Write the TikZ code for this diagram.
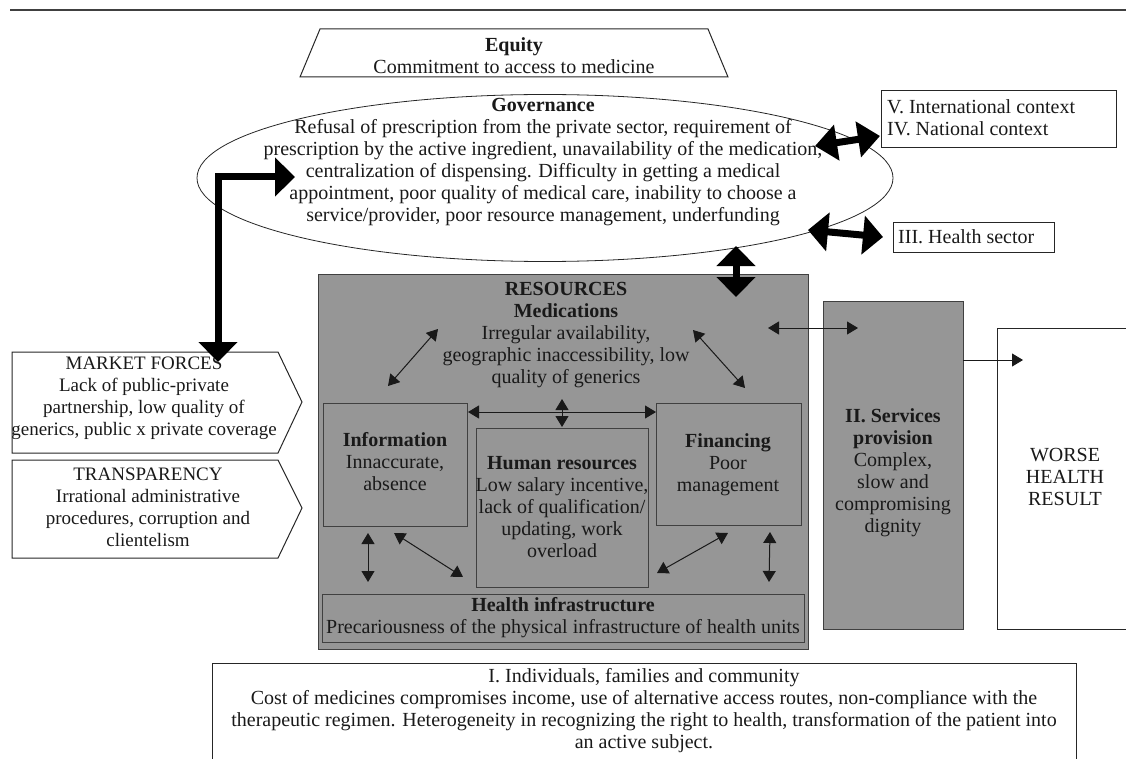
\documentclass[tikz,border=0pt]{standalone}
\usepackage{fontspec}
\setmainfont{Liberation Serif}
\usetikzlibrary{arrows.meta,shapes.geometric}
\definecolor{gfill}{RGB}{150,150,150}
\definecolor{ink}{RGB}{25,25,25}
\begin{document}
\begin{tikzpicture}[x=1pt,y=-1pt,
  txt/.style={font=\fontsize{20}{22}\selectfont, align=center, inner sep=0pt, text=ink},
  stxt/.style={txt, font=\fontsize{19}{22}\selectfont},
  ltxt/.style={font=\fontsize{20}{22}\selectfont, align=left, inner sep=0pt, text=ink, anchor=west},
  box/.style={draw=black!85, line width=1pt, inner sep=0pt, anchor=north west},
  graybox/.style={box, fill=gfill, draw=black!75},
  bigarrow/.style={line width=7pt, line join=miter, {Triangle[width=38pt,length=20pt]}-{Triangle[width=38pt,length=20pt]}},
  smallarrow/.style={line width=1pt, draw=ink, {Triangle[width=13pt,length=11pt]}-{Triangle[width=13pt,length=11pt]}},
  onearrow/.style={line width=1pt, draw=ink, -{Triangle[width=13pt,length=11pt]}}
]
\useasboundingbox (0,0) rectangle (1126,759);

% top rule
\draw[line width=1.2pt, black!75] (10,10) -- (1126,10);

% Equity
\draw[line width=1pt, black!85] (300,77) -- (320,29) -- (708,29) -- (728,77) -- cycle;
\node[txt] (equity) at (514,56) {\textbf{Equity}\\Commitment to access to medicine};

% Governance ellipse
\node[draw=black!85, line width=0.8pt, ellipse, minimum width=696pt, minimum height=167pt, inner sep=0pt] (gov) at (545,178) {};
\node[txt] (govtxt) at (543,162) {\textbf{Governance}\\
Refusal of prescription from the private sector, requirement of\\
prescription by the active ingredient, unavailability of the medication,\\
centralization of dispensing. Difficulty in getting a medical\\
appointment, poor quality of medical care, inability to choose a\\
service/provider, poor resource management, underfunding};

% context boxes
\node[box, minimum width=235pt, minimum height=57pt] (intl) at (881,90) {};
\node[ltxt] (intltxt) at (887,118) {V. International context\\IV. National context};
\node[box, minimum width=161pt, minimum height=30pt] (hs) at (893,222) {};
\node[ltxt] (hstxt) at (898,237) {III. Health sector};

% Market forces / transparency chevrons
\draw[line width=1pt, black!85] (12,352) -- (278,352) -- (302,402) -- (278,453) -- (12,453) -- cycle;
\node[stxt] (mkt) at (144,398) {MARKET FORCES\\Lack of public-private\\partnership, low quality of\\generics, public x private coverage};
\draw[line width=1pt, black!85] (12,460) -- (278,460) -- (302,508) -- (278,558) -- (12,558) -- cycle;
\node[stxt] (transp) at (148,507) {TRANSPARENCY\\Irrational administrative\\procedures, corruption and\\clientelism};

% Resources
\node[graybox, line width=1.3pt, minimum width=490pt, minimum height=375pt] (res) at (318,274) {};
\node[txt] (restxt) at (566,335) {\textbf{RESOURCES}\\\textbf{Medications}\\Irregular availability,\\geographic inaccessibility, low\\quality of generics};
\node[graybox, minimum width=144pt, minimum height=123pt] (info) at (323,403) {};
\node[txt] (infotxt) at (395,462) {\textbf{Information}\\Innaccurate,\\absence};
\node[graybox, minimum width=172pt, minimum height=159pt] (hr) at (476,428) {};
\node[txt] (hrtxt) at (562,507) {\textbf{Human resources}\\Low salary incentive,\\lack of qualification/\\updating, work\\overload};
\node[graybox, minimum width=145pt, minimum height=122pt] (fin) at (656,403) {};
\node[txt] (fintxt) at (728,465) {\textbf{Financing}\\Poor\\management};
\node[graybox, minimum width=482pt, minimum height=48pt] (infra) at (322,594) {};
\node[txt] (infratxt) at (563,618) {\textbf{Health infrastructure}\\Precariousness of the physical infrastructure of health units};

% Services provision
\node[graybox, minimum width=140pt, minimum height=328pt] (serv) at (823,301) {};
\node[txt] (servtxt) at (893,473) {\textbf{II. Services}\\\textbf{provision}\\Complex,\\slow and\\compromising\\dignity};

% Worse health result (open on the right)
\draw[line width=1pt, black!85] (1130,328) -- (997,328) -- (997,629) -- (1130,629);
\node[txt] (worsetxt) at (1065,477) {WORSE\\HEALTH\\RESULT};

% Individuals box (open at the bottom)
\draw[line width=1pt, black!85] (212,770) -- (212,663) -- (1076,663) -- (1076,770);
\node[txt] (indtxt) at (644,711) {I. Individuals, families and community\\
Cost of medicines compromises income, use of alternative access routes, non-compliance with the\\
therapeutic regimen. Heterogeneity in recognizing the right to health, transformation of the patient into\\
an active subject.};

% connector end points
\coordinate (govI) at (815,146);  \coordinate (intlL) at (880,136);
\coordinate (govH) at (808,230);  \coordinate (hsL) at (883,237);
\coordinate (govB) at (736,246);  \coordinate (resT) at (736,297);
\coordinate (govW) at (295,177);  \coordinate (elbow) at (218,177);  \coordinate (mktT) at (218,362);

% thick arrows
\draw[bigarrow, {Triangle[width=35pt,length=22pt]}-{Triangle[width=35pt,length=22pt]}] (govI) -- (intlL);
\draw[bigarrow] (govH) -- (hsL);
\draw[bigarrow] (govB) -- (resT);
\draw[bigarrow] (govW) -- (elbow) -- (mktT);

% thin arrows inside resources
\coordinate (medL) at (438,329); \coordinate (infoT) at (388,386);
\coordinate (medR) at (693,330); \coordinate (finT) at (745,388);
\coordinate (medB) at (562,399); \coordinate (hrT) at (562,427);
\coordinate (infoB) at (368,533); \coordinate (infraL) at (368,582);
\coordinate (infoD) at (394,533); \coordinate (hrL) at (463,577);
\coordinate (finD) at (728,533); \coordinate (hrR) at (657,573);
\coordinate (finB) at (770,532); \coordinate (infraR) at (769,582);
\coordinate (resR) at (768,328); \coordinate (servL) at (858,328);
\coordinate (servR) at (963,360); \coordinate (worseIn) at (1023,360);

\draw[smallarrow] (medL) -- (infoT);
\draw[smallarrow] (medR) -- (finT);
\draw[smallarrow] (info.east |- 0,412) -- (fin.west |- 0,412);
\draw[smallarrow] (medB) -- (hrT);
\draw[smallarrow] (infoB) -- (infraL);
\draw[smallarrow] (infoD) -- (hrL);
\draw[smallarrow] (finD) -- (hrR);
\draw[smallarrow] (finB) -- (infraR);
\draw[smallarrow] (resR) -- (servL);
\draw[onearrow] (servR) -- (worseIn);
\end{tikzpicture}
\end{document}
